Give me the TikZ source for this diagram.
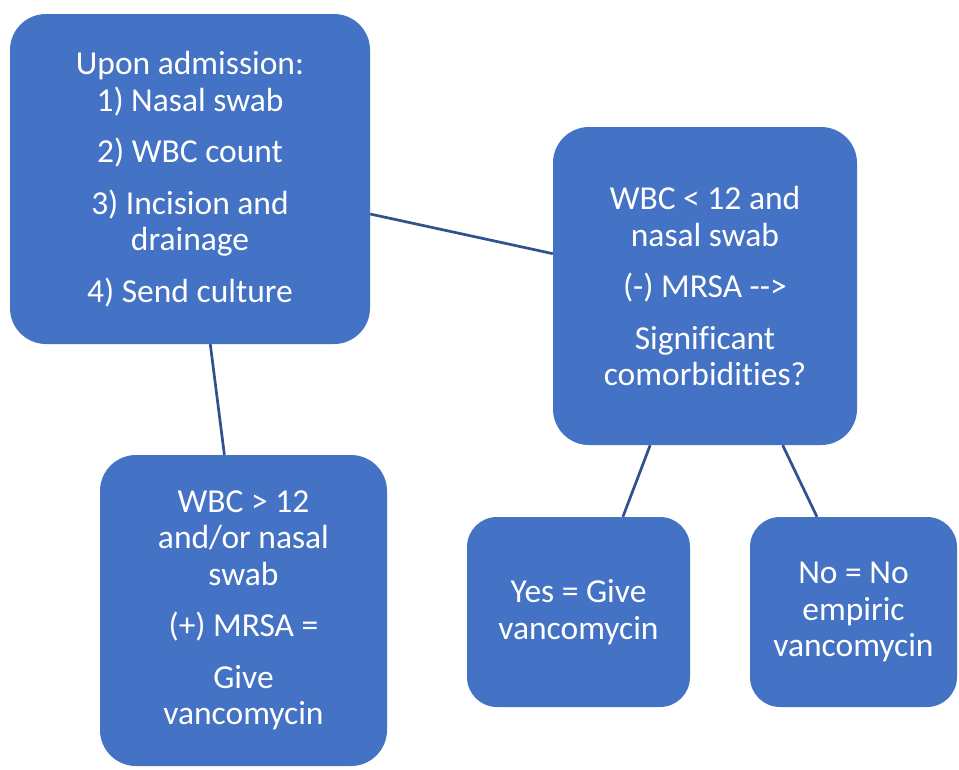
\documentclass[tikz,border=0pt]{standalone}
\usepackage{fontspec}
\setmainfont{Carlito}[Ligatures={NoCommon}]
\usetikzlibrary{positioning}
\usepackage{xcolor}

\definecolor{boxblue}{RGB}{68,114,196}
\definecolor{linkblue}{RGB}{47,82,143}

\tikzset{
  card/.style={fill=boxblue, text=white, align=center, inner sep=0pt,
    rounded corners=36pt, font=\fontsize{33.5}{36.5}\selectfont},
  link/.style={draw=linkblue, line width=2.7pt}
}

\begin{document}
\begin{tikzpicture}[x=1pt,y=-1pt]
        % Page
        \path[use as bounding box, fill=white] (0,0) rectangle (959,769);

        % Admission box
        \node[card, minimum width=360pt, minimum height=330pt] (admit) at (190,179)
            {Upon admission:\\1) Nasal swab\\[15pt]2) WBC count\\[15pt]3) Incision and\\drainage\\[15pt]4) Send culture};

        % Negative branch
        \node[card, minimum width=304pt, minimum height=318pt] (neg) at (705,286)
            {WBC < 12 and\\nasal swab\\[15pt](-) MRSA -\kern0pt-\kern0pt>\\[15pt]Significant\\comorbidities?};

        % Positive branch
        \node[card, minimum width=287pt, minimum height=311pt] (pos) at (243.5,610.5)
            {WBC > 12\\and/or nasal\\swab\\[15pt](+) MRSA =\\[15pt]Give\\vancomycin};

        % Comorbidity answers
        \node[card, rounded corners=30pt, minimum width=223pt, minimum height=190pt] (yes) at (578.5,612)
            {Yes = Give\\vancomycin};
        \node[card, rounded corners=30pt, minimum width=207pt, minimum height=190pt] (no) at (853.5,612)
            {No = No\\empiric\\vancomycin};

        % Connectors
        \draw[link] (admit.-11.6) -- (neg.168.5);
        \draw[link] (admit.-83.1) -- (pos.97.9);
        \draw[link] (neg.-109.1) -- (yes.65.4);
        \draw[link] (neg.-64.5) -- (no.111.5);
\end{tikzpicture}
\end{document}
